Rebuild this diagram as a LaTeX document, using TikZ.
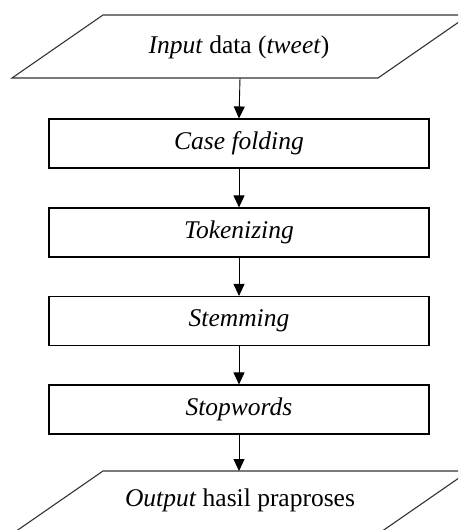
\documentclass[tikz,border=0pt]{standalone}
\usepackage{fontspec}
\setmainfont{Liberation Serif}
\usetikzlibrary{arrows.meta}
\begin{document}
\begin{tikzpicture}[x=1pt,y=-1pt,
  procbox/.style={draw=black,line width=1.1pt,minimum width=380pt,minimum height=49pt,inner sep=0pt,font=\fontsize{25.5}{30}\selectfont},
  iotext/.style={inner sep=0pt,font=\fontsize{25.5}{30}\selectfont},
  iofill/.style={draw=black!80,line width=1.1pt},
  flow/.style={line width=0.9pt,-{Triangle[length=12pt,width=11pt]}}]
\useasboundingbox (0,0) rectangle (458,530);
\begin{scope}
\clip (0,0) rectangle (458,530);
\draw[iofill] (12,78) -- (103,15) -- (469,15) -- (378,78) -- cycle;
\draw[iofill] (12,534) -- (103,471) -- (469,471) -- (378,534) -- cycle;
\end{scope}
\node[iotext] (in) at (239,47) {\textit{Input} data (\textit{tweet})};
\coordinate (inb) at (240,78);
\node[procbox] (cf) at (239,143.5) {\textit{Case folding}};
\node[procbox] (tk) at (239,232.5) {\textit{Tokenizing}};
\node[procbox] (st) at (239,321) {\textit{Stemming}};
\node[procbox] (sw) at (239,409.5) {\textit{Stopwords}};
\node[iotext] (out) at (240,500) {\textit{Output} hasil praproses};
\coordinate (outt) at (239,471);
\draw[flow] (inb) -- (cf.north);
\draw[flow] (cf) -- (tk);
\draw[flow] (tk) -- (st);
\draw[flow] (st) -- (sw);
\draw[flow] (sw.south) -- (outt);
\end{tikzpicture}
\end{document}
